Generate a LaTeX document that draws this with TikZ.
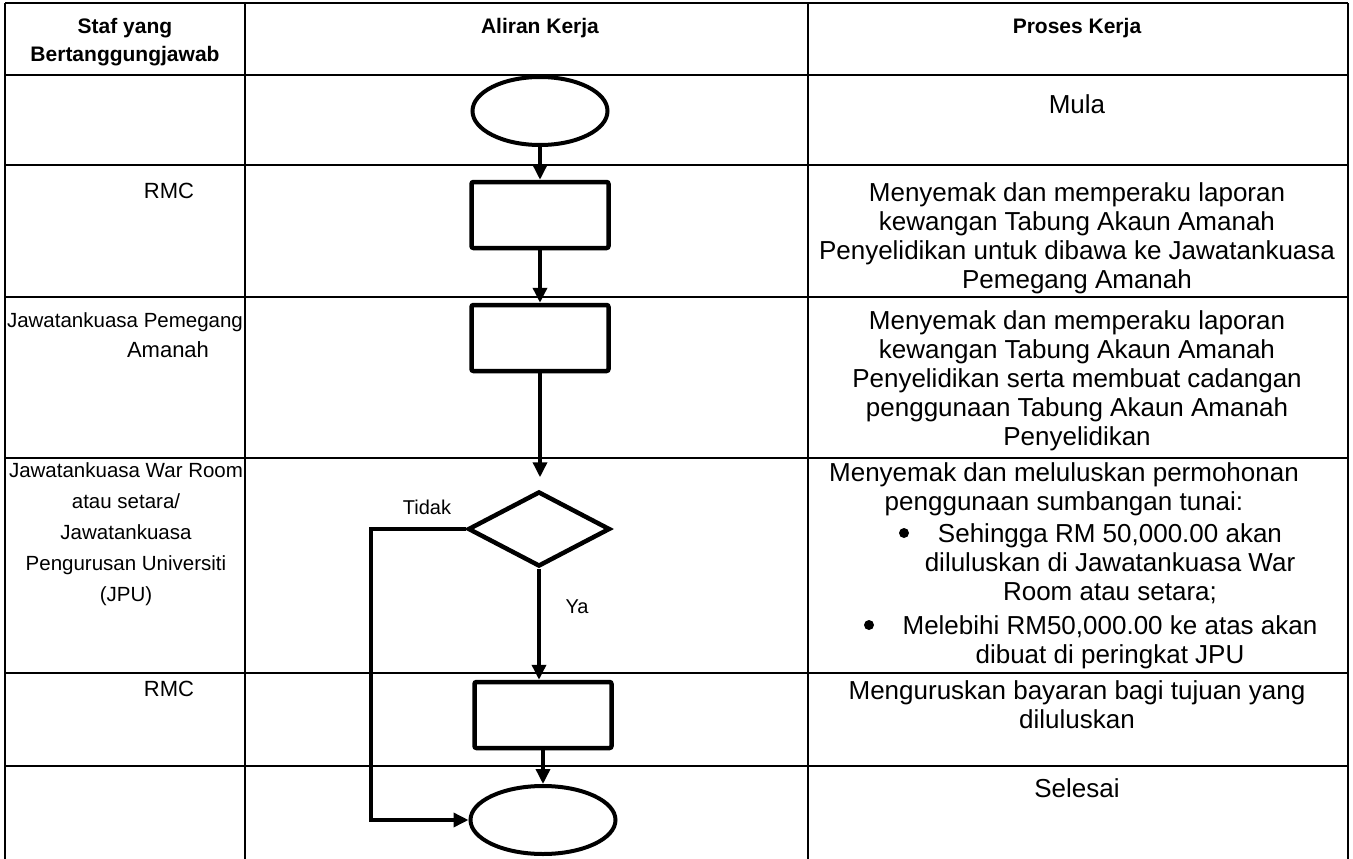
\documentclass[tikz,border=0pt]{standalone}
\usepackage{fontspec}
\setmainfont{Liberation Sans}
\usetikzlibrary{arrows.meta}
\usetikzlibrary{shapes.geometric}
\usetikzlibrary{positioning}

\begin{document}
\begin{tikzpicture}
    [
    x=1pt, y=-1pt,
    grid/.style = {line width=2.2pt},
    terminal/.style = {draw,ellipse,line width=4pt,inner sep=0pt,minimum width=135pt,minimum height=68pt},
    procbox/.style = {draw,rectangle,rounded corners=2pt,line width=4.5pt,inner sep=0pt,minimum width=137pt,minimum height=66pt},
    decision/.style = {draw,diamond,line width=4.5pt,inner sep=0pt,minimum width=142pt,minimum height=75pt},
    flow/.style = {line width=3.5pt,-{Triangle[length=15pt,width=14pt]}},
    head/.style = {anchor=north,align=center,inner sep=0pt,font=\fontsize{21}{28}\selectfont\bfseries},
    staff/.style = {anchor=north,align=center,inner sep=0pt,font=\fontsize{20.5}{31}\selectfont},
    task/.style = {anchor=north,align=center,inner sep=0pt,font=\fontsize{26}{29}\selectfont},
    note/.style = {inner sep=0pt,font=\fontsize{20}{24}\selectfont},
    bullet/.style = {circle,fill,inner sep=0pt,minimum size=10pt}
    ]
\useasboundingbox (0,0) rectangle (1353,859);

% table
\draw[grid] (5,3) -- (1348,3);
\draw[grid] (5,75) -- (1348,75);
\draw[grid] (5,165) -- (1348,165);
\draw[grid] (5,297) -- (1348,297);
\draw[grid] (5,458) -- (1348,458);
\draw[grid] (5,673) -- (1348,673);
\draw[grid] (5,766) -- (1348,766);
\draw[grid] (5,3) -- (5,859);
\draw[grid] (245,3) -- (245,859);
\draw[grid] (808,3) -- (808,859);
\draw[grid] (1348,3) -- (1348,859);

% headers
\node[head] (hstaf) at (125,18) {Staf yang\\Bertanggungjawab};
\node[head] (haliran) at (540,18) {Aliran Kerja};
\node[head] (hproses) at (1077,18) {Proses Kerja};

% staff column
\node[staff,font=\fontsize{22}{31}\selectfont] (rmc1) at (169,183) {RMC};
\node[staff] (jpa) at (125,312) {Jawatankuasa Pemegang};
\node[staff,font=\fontsize{22}{31}\selectfont] (jpb) at (168,341) {Amanah};
\node[staff] (jwr) at (126,462) {Jawatankuasa War Room\\atau setara/\\Jawatankuasa\\Pengurusan Universiti\\(JPU)};
\node[staff,font=\fontsize{22}{31}\selectfont] (rmc2) at (169,681) {RMC};

% flow
\node[terminal] (mula) at (540,111) {};
\node[procbox] (semak) at (540,215) {};
\node[procbox] (peraku) at (540,338) {};
\node[decision] (lulus) at (539,529) {};
\node[procbox] (bayar) at (543,715) {};
\node[terminal,minimum width=145pt] (tamat) at (543,820) {};
\coordinate (kiri) at (371,0);

\draw[flow] (mula) -- (semak);
\draw[flow] (semak) -- (peraku);
\draw[flow,shorten >=12pt] (peraku.south) -- (peraku.south |- lulus.north);
\draw[flow] (lulus.south) -- (lulus.south |- bayar.north);
\draw[flow] (bayar) -- (tamat);
\draw[flow] (lulus.west) -- (lulus.west -| kiri) |- (tamat.west);
\node[note] (tidak) at (427,507) {Tidak};
\node[note] (ya) at (577,607) {Ya};

% process column
\node[task] (p0) at (1077,94) {Mula};
\node[task] (p1) at (1077,182) {Menyemak dan memperaku laporan\\kewangan Tabung Akaun Amanah\\Penyelidikan untuk dibawa ke Jawatankuasa\\Pemegang Amanah};
\node[task] (p2) at (1077,310) {Menyemak dan memperaku laporan\\kewangan Tabung Akaun Amanah\\Penyelidikan serta membuat cadangan\\penggunaan Tabung Akaun Amanah\\Penyelidikan};
\node[task] (p3) at (1064,462) {Menyemak dan meluluskan permohonan\\penggunaan sumbangan tunai:};
\node[task] (p3a) at (1110,523) {Sehingga RM 50,000.00 akan\\diluluskan di Jawatankuasa War\\Room atau setara;};
\node[task] (p3b) at (1110,615) {Melebihi RM50,000.00 ke atas akan\\dibuat di peringkat JPU};
\node[bullet] (b1) at (904,533) {};
\node[bullet] (b2) at (869,625) {};
\node[task] (p4) at (1077,680) {Menguruskan bayaran bagi tujuan yang\\diluluskan};
\node[task] (p5) at (1077,778) {Selesai};
\end{tikzpicture}
\end{document}
